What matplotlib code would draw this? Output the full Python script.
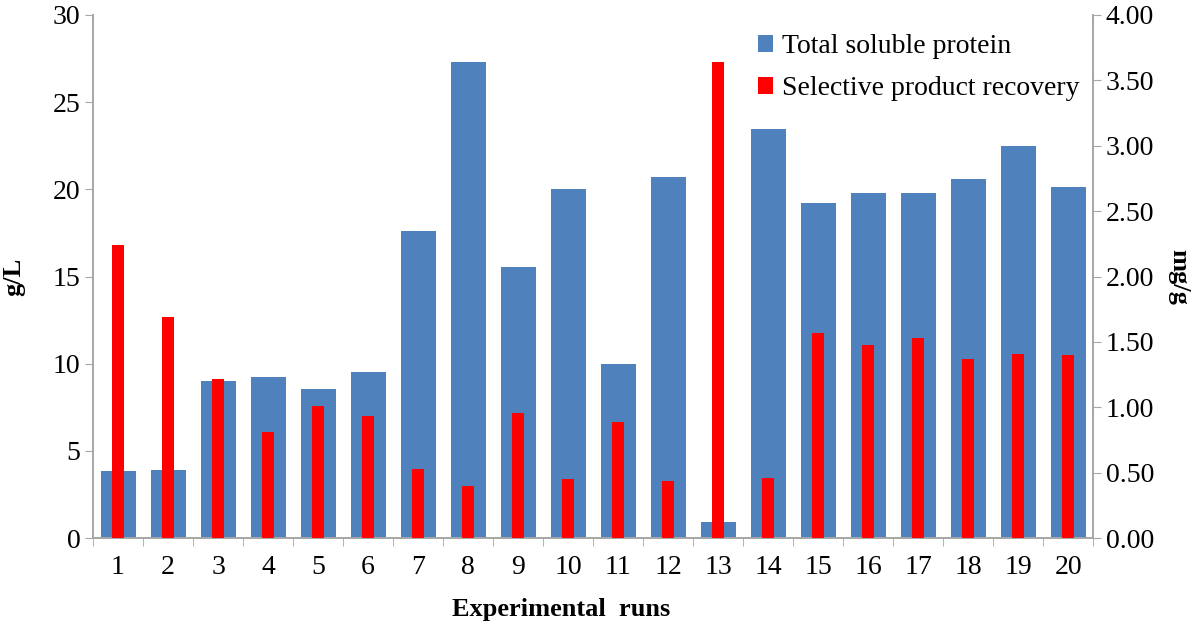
import numpy as np
import matplotlib
matplotlib.use('Agg')
import matplotlib.pyplot as plt
from matplotlib.ticker import FixedLocator, FormatStrFormatter

plt.rcParams['font.family'] = ['Liberation Serif', 'DejaVu Serif']

runs = list(range(1, 21))
# total soluble protein, g/L (left axis)
tsp = [3.85, 3.9, 9.0, 9.25, 8.55, 9.5, 17.6, 27.3, 15.55, 20.0,
       10.0, 20.7, 0.95, 23.45, 19.2, 19.8, 19.8, 20.6, 22.5, 20.15]
# selective product recovery, mg/g (right axis)
spr = [2.24, 1.69, 1.22, 0.81, 1.01, 0.93, 0.53, 0.40, 0.96, 0.45,
       0.89, 0.44, 3.64, 0.46, 1.57, 1.48, 1.53, 1.37, 1.41, 1.40]

blue = '#4F81BD'
red = '#FF0000'
grey = '#A6A6A6'

fig = plt.figure(figsize=(12, 6.25), dpi=100)
ax = fig.add_axes([0.0775, 0.139, 0.8335, 0.837])
ax2 = ax.twinx()

x = np.arange(len(runs))
b1 = ax.bar(x, tsp, width=0.7, color=blue, label='Total soluble protein', zorder=2)
b2 = ax2.bar(x, spr, width=0.24, color=red, label='Selective product recovery', zorder=3)

ax.set_xlim(-0.5, len(runs) - 0.5)
ax.set_ylim(0, 30)
ax2.set_ylim(0, 4)
ax.set_yticks(np.arange(0, 31, 5))
ax2.set_yticks(np.arange(0, 4.01, 0.5))
ax2.yaxis.set_major_formatter(FormatStrFormatter('%.2f'))

ax.set_xticks(x)
ax.set_xticklabels([str(r) for r in runs])
ax.xaxis.set_minor_locator(FixedLocator(np.arange(-0.5, len(runs), 1)))
ax.tick_params(axis='x', which='major', length=0, pad=12, labelsize=20)
ax.tick_params(axis='x', which='minor', length=6, color=grey, direction='out')
ax.tick_params(axis='y', length=6, color=grey, labelsize=20, pad=3)
ax2.tick_params(axis='y', length=6, color=grey, labelsize=20, pad=3)

for a in (ax, ax2):
    a.spines['top'].set_visible(False)
    for s in ('left', 'right', 'bottom'):
        a.spines[s].set_color(grey)
        a.spines[s].set_linewidth(1.2)

ax.set_xlabel('Experimental  runs', fontsize=19, fontweight='bold')
ax.xaxis.set_label_coords(0.468, -0.115)
ax.set_ylabel('g/L', fontsize=19, fontweight='bold')
ax.yaxis.set_label_coords(-0.068, 0.5)
ax2.set_ylabel('mg/g', fontsize=19, fontweight='bold', rotation=270,
               ha='center', va='center')
ax2.yaxis.set_label_coords(1.086, 0.5)

ax.set_zorder(ax2.get_zorder() - 1)
ax2.patch.set_visible(False)

fig.legend([b1, b2], ['Total soluble protein', 'Selective product recovery'],
           loc='upper right', bbox_to_anchor=(0.92, 0.985), frameon=False,
           fontsize=20, handlelength=0.55, handleheight=0.55, handletextpad=0.3,
           labelspacing=0.6)

fig.savefig('out.png', dpi=100)
